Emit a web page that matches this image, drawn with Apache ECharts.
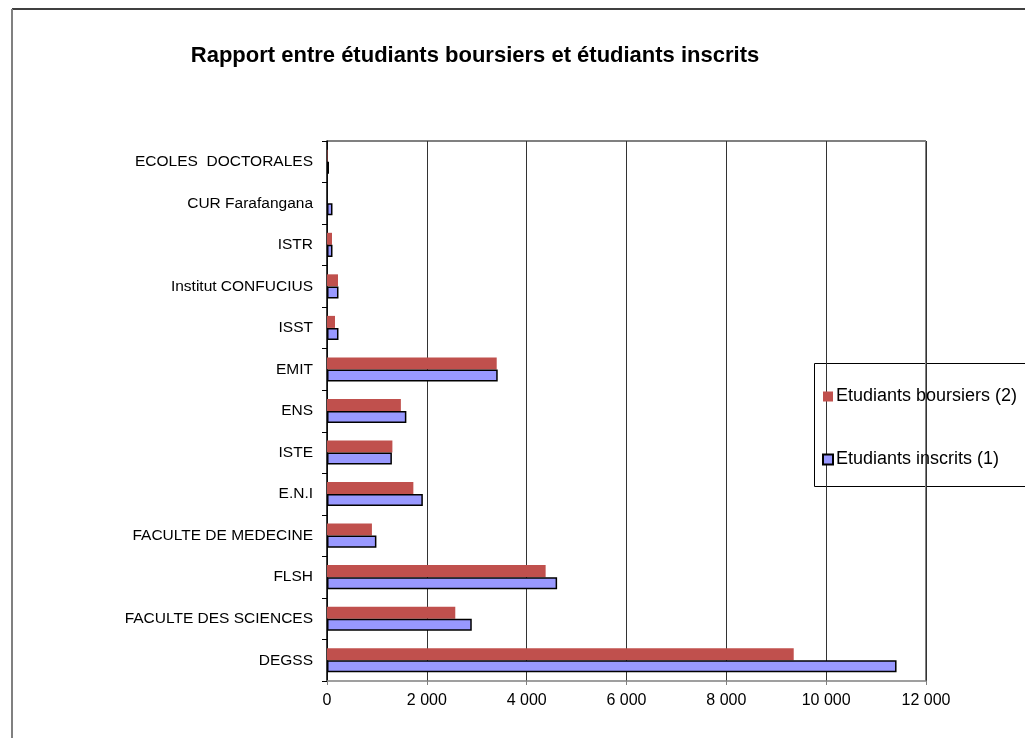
<!DOCTYPE html>
<html>
<head>
<meta charset="utf-8">
<title>Rapport entre étudiants boursiers et étudiants inscrits</title>
<script src="https://cdn.jsdelivr.net/npm/echarts@6/dist/echarts.min.js"></script>
<style>
  html, body { margin: 0; padding: 0; background: #fff; }
  #chart { width: 1025px; height: 738px; }
</style>
</head>
<body>
<div id="chart"></div>
<script>
// etablissements, from top to bottom as shown
const etablissements = [
  'ECOLES  DOCTORALES',
  'CUR Farafangana',
  'ISTR',
  'Institut CONFUCIUS',
  'ISST',
  'EMIT',
  'ENS',
  'ISTE',
  'E.N.I',
  'FACULTE DE MEDECINE',
  'FLSH',
  'FACULTE DES SCIENCES',
  'DEGSS'
]
const boursiers = [10, 0, 100, 220, 160, 3400, 1480, 1310, 1730, 900, 4380, 2570, 9350]
const inscrits = [40, 110, 110, 230, 230, 3420, 1590, 1300, 1920, 990, 4610, 2900, 11410]
const axisMax = 12000
const axisStep = 2000

const font = 'Arial, "Liberation Sans", sans-serif'

function milliers(v) {
  return String(v).replace(/\B(?=(\d{3})+(?!\d))/g, ' ')
}

const chart = echarts.init(document.getElementById('chart'))

chart.setOption({
  animation: false,
  title: {
    text: 'Rapport entre étudiants boursiers et étudiants inscrits',
    left: 470,
    top: 40,
    textAlign: 'center',
    textStyle: {
      fontFamily: font,
      fontSize: 22,
      fontWeight: 'bold',
      color: '#000'
    }
  },
  legend: {
    orient: 'vertical',
    left: 817,
    top: 381,
    itemGap: 42,
    itemWidth: 10,
    itemHeight: 10,
    icon: 'rect',
    data: ['Etudiants boursiers (2)', 'Etudiants inscrits (1)'],
    textStyle: {
      fontFamily: font,
      fontSize: 18,
      lineHeight: 21,
      color: '#000',
      padding: [0, 0, 0, -2]
    }
  },
  graphic: [
    { type: 'line', shape: { x1: 12, y1: 9, x2: 1025, y2: 9 }, style: { stroke: '#000', lineWidth: 1.5 } },
    { type: 'line', shape: { x1: 12, y1: 9, x2: 12, y2: 738 }, style: { stroke: '#808080', lineWidth: 2 } },
    { type: 'rect', shape: { x: 814.5, y: 363.5, width: 240, height: 123 }, style: { fill: 'none', stroke: '#000', lineWidth: 1 } },
    { type: 'line', shape: { x1: 327, y1: 141, x2: 926, y2: 141 }, style: { stroke: '#808080', lineWidth: 2 } },
    { type: 'line', shape: { x1: 926, y1: 141, x2: 926, y2: 681 }, style: { stroke: '#808080', lineWidth: 2 } }
  ],
  grid: {
    left: 327,
    right: 99,
    top: 141,
    bottom: 57,
    containLabel: false
  },
  xAxis: {
    type: 'value',
    min: 0,
    max: axisMax,
    interval: axisStep,
    axisLine: { show: true, lineStyle: { color: '#808080', width: 1.5 } },
    axisTick: { show: true, length: 4, lineStyle: { color: '#808080' } },
    splitLine: { show: true, lineStyle: { color: '#333', width: 1 } },
    axisLabel: {
      margin: 12,
      fontFamily: font,
      fontSize: 16,
      color: '#000',
      formatter: milliers
    }
  },
  yAxis: {
    type: 'category',
    inverse: true,
    data: etablissements,
    axisLine: { show: true, lineStyle: { color: '#000', width: 1.5 } },
    axisTick: { show: true, length: 5, lineStyle: { color: '#000' } },
    axisLabel: {
      margin: 14,
      fontFamily: font,
      fontSize: 15.5,
      color: '#000'
    }
  },
  series: [{
    name: 'Etudiants boursiers (2)',
    type: 'bar',
    data: boursiers,
    barGap: '0%',
    barCategoryGap: '42%',
    itemStyle: { color: '#C0504D' }
  }, {
    name: 'Etudiants inscrits (1)',
    type: 'bar',
    data: inscrits,
    barGap: '0%',
    barCategoryGap: '42%',
    itemStyle: { color: '#9999FF', borderColor: '#000', borderWidth: 1.5 }
  }]
})
</script>
</body>
</html>
